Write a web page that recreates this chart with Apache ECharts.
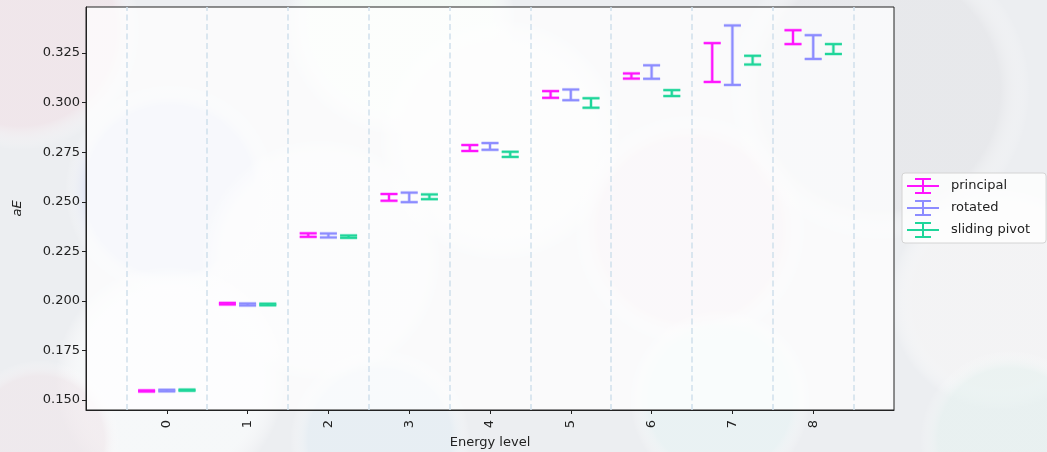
<!DOCTYPE html>
<html>
<head>
<meta charset="utf-8">
<script src="https://cdn.jsdelivr.net/npm/echarts@6/dist/echarts.min.js"></script>
<style>
html,body{margin:0;padding:0;background:#eef0f3;}
#c{width:1047px;height:452px;}
</style>
</head>
<body>
<div id="c"></div>
<script>
// ---- data ----
const categories = [0, 1, 2, 3, 4, 5, 6, 7, 8];
const yTicks = [0.150, 0.175, 0.200, 0.225, 0.250, 0.275, 0.300, 0.325];
const seriesNames = ['principal', 'rotated', 'sliding pivot'];
const principalValues = [0.1546, 0.1986, 0.2332, 0.2522, 0.2771, 0.3041, 0.3134, 0.3202, 0.3330];
const principalErrors = [0.0003, 0.0004, 0.0009, 0.0017, 0.0015, 0.0017, 0.0013, 0.0098, 0.0035];
const rotatedValues   = [0.1548, 0.1982, 0.2330, 0.2522, 0.2779, 0.3039, 0.3154, 0.3239, 0.3280];
const rotatedErrors   = [0.0004, 0.0005, 0.0010, 0.0024, 0.0017, 0.0027, 0.0034, 0.0150, 0.0060];
const slidingValues   = [0.1550, 0.1982, 0.2324, 0.2525, 0.2739, 0.2998, 0.3048, 0.3214, 0.3270];
const slidingErrors   = [0.0003, 0.0004, 0.0006, 0.0012, 0.0013, 0.0024, 0.0015, 0.0022, 0.0025];

const colors = ['#ff14ff', '#8c8cff', '#1fd69a'];
const offsets = [-0.25, 0, 0.25];
const valuesList = [principalValues, rotatedValues, slidingValues];
const errorsList = [principalErrors, rotatedErrors, slidingErrors];
const boundaries = categories.map(c => c - 0.5).concat([categories[categories.length - 1] + 0.5]);

const chart = echarts.init(document.getElementById('c'), null, {renderer: 'canvas'});

function makeRender(offset, color) {
  return function (params, api) {
    const x = api.value(0) + offset;
    const v = api.value(1), e = api.value(2);
    const top = api.coord([x, v + e]);
    const bot = api.coord([x, v - e]);
    const hw = 8.5;
    const mk = (x1, y1, x2, y2, w, op) => ({
      type: 'line', shape: {x1, y1, x2, y2},
      style: {stroke: color, lineWidth: w, opacity: op}
    });
    const children = [];
    [[3.5, 0.3], [2, 1]].forEach(([w, op]) => {
      children.push(mk(top[0], top[1], bot[0], bot[1], w, op));
      children.push(mk(top[0] - hw, top[1], top[0] + hw, top[1], w, op));
      children.push(mk(bot[0] - hw, bot[1], bot[0] + hw, bot[1], w, op));
    });
    return {type: 'group', children};
  };
}

const series = seriesNames.map((name, s) => ({
  name, type: 'custom',
  itemStyle: {color: colors[s]},
  renderItem: makeRender(offsets[s], colors[s]),
  data: categories.map((c, i) => [c, valuesList[s][i], errorsList[s][i]]),
  encode: {x: 0, y: 1},
  z: 5
}));
series.push({
  name: 'boundaries', type: 'line', data: [], z: 1,
  markLine: {
    silent: true, symbol: 'none', label: {show: false},
    lineStyle: {type: [6, 3.5], color: '#d0e0ec', width: 1.5},
    data: boundaries.map(b => ({xAxis: b}))
  }
});

function circ(cx, cy, r, color, op) {
  return {
    type: 'circle', shape: {cx, cy, r}, silent: true, z: -10,
    style: {
      fill: new echarts.graphic.RadialGradient(0.5, 0.5, 0.5, [
        {offset: 0, color: color},
        {offset: 0.8, color: color},
        {offset: 1, color: 'rgba(255,255,255,0)'}
      ]),
      opacity: op
    }
  };
}

const option = {
  backgroundColor: '#eceef1',
  animation: false,
  textStyle: {fontFamily: 'DejaVu Sans'},
  graphic: [
    circ(20, 30, 120, '#f1e3e8', 0.7),
    circ(170, 190, 105, '#dfe4f3', 0.9),
    circ(400, 20, 115, '#f4faf6', 0.9),
    circ(320, 260, 120, '#f6f6f8', 0.9),
    circ(500, 140, 120, '#f7f7f7', 0.9),
    circ(170, 380, 115, '#f7f9fa', 0.9),
    circ(690, 230, 115, '#efe4ea', 0.8),
    circ(880, 90, 150, '#e6e7ea', 0.8),
    circ(1000, 300, 110, '#f4f4f5', 0.9),
    circ(720, 400, 90, '#e9f3f4', 0.8),
    circ(380, 440, 90, '#e6eef4', 0.8),
    circ(1010, 440, 90, '#e6f2f0', 0.6),
    circ(40, 440, 80, '#f0e6ea', 0.6)
  ],
  grid: {
    left: 86, top: 7, right: 153, bottom: 42,
    outerBoundsMode: 'none', containLabel: false,
    show: true, backgroundColor: 'rgba(255,255,255,0.72)',
    borderColor: '#222', borderWidth: 1
  },
  legend: {
    left: 902, top: 173, orient: 'vertical',
    itemWidth: 32, itemHeight: 16, itemGap: 6,
    padding: [5, 16, 5, 5],
    backgroundColor: 'rgba(255,255,255,0.8)',
    borderColor: '#d4d4d4', borderWidth: 1, borderRadius: 3,
    textStyle: {fontSize: 13, color: '#222', fontFamily: 'DejaVu Sans', padding: [0, 0, 0, 7]},
    data: seriesNames.map(n => ({
      name: n,
      icon: 'path://M0,7h32v2h-32z M15,0h2v16h-2z M8,0h16v2h-16z M8,14h16v2h-16z'
    }))
  },
  xAxis: {
    type: 'value', min: -1, max: 9,
    name: 'Energy level', nameLocation: 'middle', nameGap: 26,
    nameTextStyle: {fontSize: 13, color: '#222'},
    axisLine: {show: true, onZero: false, lineStyle: {color: '#222', width: 1}},
    axisTick: {show: true, length: 4, lineStyle: {color: '#222'}, customValues: categories},
    axisLabel: {show: true, rotate: 90, fontSize: 13, color: '#222', margin: 10, customValues: categories},
    splitLine: {show: false}
  },
  yAxis: {
    type: 'value', min: 0.1450, max: 0.3482,
    name: 'aE', nameLocation: 'middle', nameGap: 62, nameRotate: 90,
    nameTextStyle: {fontSize: 13, color: '#222', fontStyle: 'italic'},
    axisLine: {show: true, onZero: false, lineStyle: {color: '#222', width: 1}},
    axisTick: {show: true, length: 4, lineStyle: {color: '#222'}, customValues: yTicks},
    axisLabel: {show: true, fontSize: 13, color: '#222', margin: 6, customValues: yTicks,
      formatter: v => Number(v).toFixed(3)},
    splitLine: {show: false}
  },
  series
};
chart.setOption(option);
</script>
</body>
</html>
